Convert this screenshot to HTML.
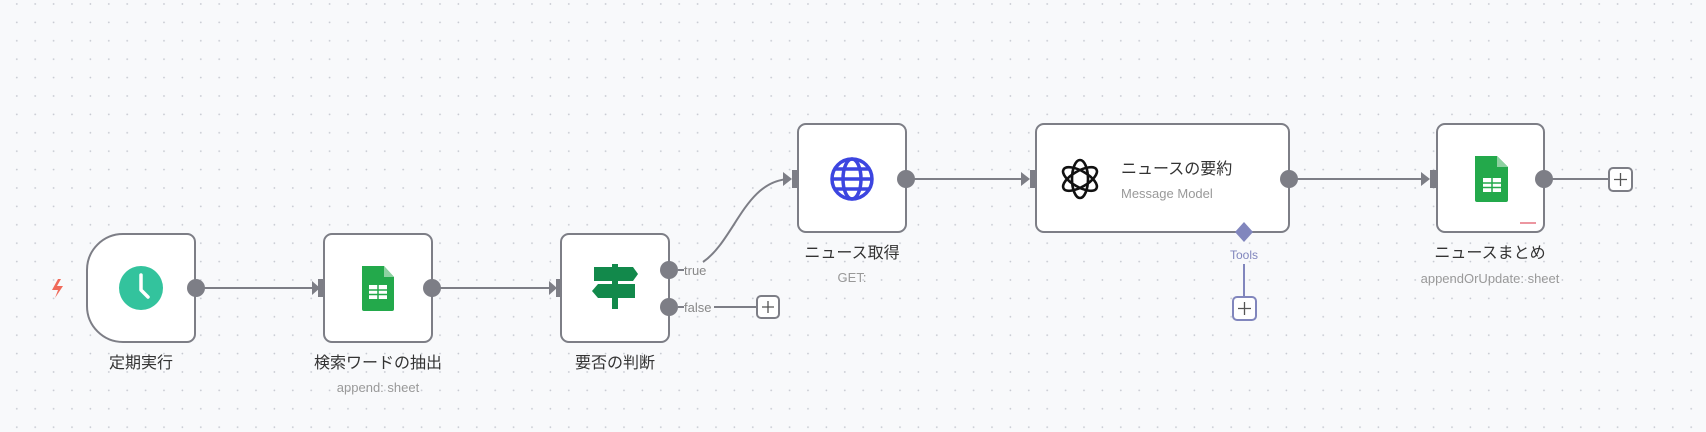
<!DOCTYPE html>
<html><head><meta charset="utf-8"><style>
html,body{margin:0;padding:0;width:1706px;height:432px;overflow:hidden;background:#f8f9fb}
svg{display:block}
text{font-family:"Liberation Sans","Noto Sans CJK JP",sans-serif}
</style></head><body>
<svg width="1706" height="432" viewBox="0 0 1706 432" xmlns="http://www.w3.org/2000/svg">
<defs>
<pattern id="dots" x="0" y="0" width="18.4" height="18.4" patternUnits="userSpaceOnUse">
<circle cx="16.8" cy="4" r="0.9" fill="#c5c8d0"/>
</pattern>
</defs>
<rect width="1706" height="432" fill="#f8f9fb"/>
<rect width="1706" height="432" fill="url(#dots)"/>

<g stroke="#7d7e86" stroke-width="2" fill="none">
<line x1="196" y1="288" x2="312" y2="288"/>
<line x1="432" y1="288" x2="549" y2="288"/>
<path d="M703 262 C735 240 745 180 790 179"/>
<line x1="906" y1="179" x2="1028" y2="179"/>
<line x1="1289" y1="179" x2="1428" y2="179"/>
<line x1="1544" y1="179" x2="1609" y2="179"/>
<line x1="714" y1="307" x2="757" y2="307"/>
</g>
<g fill="#7d7e86">
<polygon points="312,281 320,288 312,295"/><rect x="318" y="279" width="8" height="18"/>
<polygon points="549,281 557,288 549,295"/><rect x="556" y="279" width="8" height="18"/>
<polygon points="783,172 792,179 783,186"/><rect x="792" y="170" width="8" height="18"/>
<polygon points="1021,172 1030,179 1021,186"/><rect x="1030" y="170" width="8" height="18"/>
<polygon points="1421,172 1430,179 1421,186"/><rect x="1430" y="170" width="8" height="18"/>
</g>

<!-- trigger -->
<path d="M187 234 H123 A36 36 0 0 0 87 270 V306 A36 36 0 0 0 123 342 H187 A8 8 0 0 0 195 334 V242 A8 8 0 0 0 187 234Z" fill="#fff" stroke="#7d7e86" stroke-width="2"/>
<circle cx="141" cy="288" r="22" fill="#33c39d"/>
<path d="M141 275 V290 L148 297" stroke="#fff" stroke-width="3.5" fill="none" stroke-linecap="round" stroke-linejoin="round"/>
<path d="M58 279 L52 290 H58 L55 298 L63 286 H57 L61 279Z" fill="#f06a5a"/>
<circle cx="196" cy="288" r="9" fill="#7d7e86"/>
<text x="141" y="368" font-size="16" text-anchor="middle" fill="#333">定期実行</text>

<!-- sheets 1 -->
<rect x="324" y="234" width="108" height="108" rx="8" fill="#fff" stroke="#7d7e86" stroke-width="2"/>
<path d="M362 266 H384 L394 277 V309 A2 2 0 0 1 392 311 H364 A2 2 0 0 1 362 309Z" fill="#23a94b"/>
<path d="M384 266 L394 277 H384Z" fill="#8ed1a1"/>
<rect x="369" y="285" width="18" height="14" fill="#fff"/>
<g stroke="#23a94b" stroke-width="1.5"><line x1="369" y1="290" x2="387" y2="290"/><line x1="369" y1="294.5" x2="387" y2="294.5"/><line x1="378" y1="285" x2="378" y2="299"/></g>
<circle cx="432" cy="288" r="9" fill="#7d7e86"/>
<text x="378" y="368" font-size="16" text-anchor="middle" fill="#333">検索ワードの抽出</text>
<text x="378" y="392" font-size="13" text-anchor="middle" fill="#999">append: sheet</text>

<!-- switch -->
<rect x="561" y="234" width="108" height="108" rx="8" fill="#fff" stroke="#7d7e86" stroke-width="2"/>
<g fill="#12894b">
<path d="M594 267 H633 L638 274 L633 281 H594Z"/>
<path d="M635 284 H598 L592 291 L598 298 H635Z"/>
<rect x="612" y="264" width="6" height="4"/><rect x="612" y="280" width="6" height="4"/><rect x="612" y="297" width="6" height="12"/>
</g>
<circle cx="669" cy="270" r="9" fill="#7d7e86"/>
<circle cx="669" cy="307" r="9" fill="#7d7e86"/>
<line x1="678" y1="270" x2="684" y2="270" stroke="#7d7e86" stroke-width="2"/>
<line x1="678" y1="307" x2="684" y2="307" stroke="#7d7e86" stroke-width="2"/>
<text x="684" y="275" font-size="13" fill="#888">true</text>
<text x="684" y="312" font-size="13" fill="#888">false</text>
<rect x="757" y="296" width="22" height="22" rx="4" fill="#fff" stroke="#7d7e86" stroke-width="2"/>
<path d="M768 301 V313 M762 307 H774" stroke="#555" stroke-width="1.3"/>
<text x="615" y="368" font-size="16" text-anchor="middle" fill="#333">要否の判断</text>

<!-- http -->
<rect x="798" y="124" width="108" height="108" rx="8" fill="#fff" stroke="#7d7e86" stroke-width="2"/>
<g stroke="#3c45e0" stroke-width="3.5" fill="none">
<circle cx="852" cy="179" r="20"/>
<ellipse cx="852" cy="179" rx="9" ry="20"/>
<line x1="832" y1="179" x2="872" y2="179"/>
<line x1="835" y1="169" x2="869" y2="169"/>
<line x1="835" y1="189" x2="869" y2="189"/>
</g>
<circle cx="906" cy="179" r="9" fill="#7d7e86"/>
<text x="852" y="258" font-size="16" text-anchor="middle" fill="#333">ニュース取得</text>
<text x="852" y="282" font-size="13" text-anchor="middle" fill="#999">GET:</text>

<!-- AI -->
<rect x="1036" y="124" width="253" height="108" rx="8" fill="#fff" stroke="#7d7e86" stroke-width="2"/>
<g stroke="#111" stroke-width="2.6" fill="none" transform="translate(1080,179)">
<ellipse rx="8" ry="19" transform="rotate(0)"/>
<ellipse rx="8" ry="19" transform="rotate(60)"/>
<ellipse rx="8" ry="19" transform="rotate(120)"/>
</g>
<text x="1121" y="174" font-size="16" fill="#333">ニュースの要約</text>
<text x="1121" y="198" font-size="13" fill="#999">Message Model</text>
<circle cx="1289" cy="179" r="9" fill="#7d7e86"/>
<path d="M1244 222 L1253 232 L1244 242 L1235 232Z" fill="#8186bd"/>
<text x="1244" y="259" font-size="12" text-anchor="middle" fill="#8186bd">Tools</text>
<line x1="1244" y1="264" x2="1244" y2="297" stroke="#8186bd" stroke-width="2"/>
<rect x="1233" y="297" width="23" height="23" rx="4" fill="#fff" stroke="#8186bd" stroke-width="2"/>
<path d="M1244.5 302 V315 M1238 308.5 H1251" stroke="#555" stroke-width="1.3"/>

<!-- sheets 2 -->
<rect x="1437" y="124" width="107" height="108" rx="8" fill="#fff" stroke="#7d7e86" stroke-width="2"/>
<path d="M1475 156 H1497 L1508 167 V200 A2 2 0 0 1 1506 202 H1477 A2 2 0 0 1 1475 200Z" fill="#23a94b"/>
<path d="M1497 156 L1508 167 H1497Z" fill="#8ed1a1"/>
<rect x="1483" y="178" width="18" height="14" fill="#fff"/>
<g stroke="#23a94b" stroke-width="1.5"><line x1="1483" y1="183" x2="1501" y2="183"/><line x1="1483" y1="187.5" x2="1501" y2="187.5"/><line x1="1492" y1="178" x2="1492" y2="192"/></g>
<line x1="1520" y1="223" x2="1536" y2="223" stroke="#e05060" stroke-width="1.2"/>
<circle cx="1544" cy="179" r="9" fill="#7d7e86"/>
<rect x="1609" y="168" width="23" height="23" rx="4" fill="#fff" stroke="#7d7e86" stroke-width="2"/>
<path d="M1620.5 173 V186 M1614 179.5 H1627" stroke="#555" stroke-width="1.3"/>
<text x="1490" y="258" font-size="16" text-anchor="middle" fill="#333">ニュースまとめ</text>
<text x="1490" y="283" font-size="13" text-anchor="middle" fill="#999">appendOrUpdate: sheet</text>
</svg>
</body></html>
